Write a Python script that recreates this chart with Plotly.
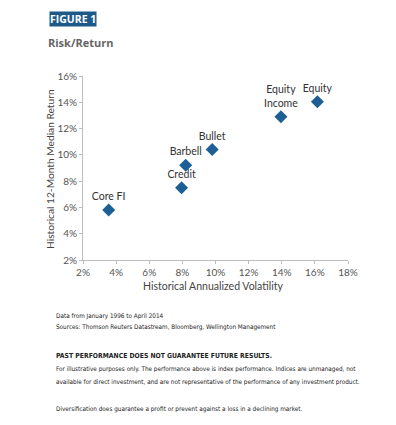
import plotly.graph_objects as go

names = ["Core FI", "Credit", "Barbell", "Bullet", "Equity<br>Income", "Equity"]
volatility = [3.55, 7.95, 8.2, 9.8, 13.95, 16.15]
returns = [5.8, 7.5, 9.2, 10.4, 12.9, 14.05]
x_ticks = [2, 4, 6, 8, 10, 12, 14, 16, 18]
y_ticks = [2, 4, 6, 8, 10, 12, 14, 16]

W, H = 396, 425
def px(x): return x / W
def py(y): return 1 - y / H

lab_font = "Lato, Open Sans, sans-serif"

fig = go.Figure()
fig.add_trace(go.Scatter(
    x=volatility, y=returns, mode="markers+text", text=names,
    textposition="top center",
    textfont=dict(family=lab_font, size=10.5, color="#333333"),
    marker=dict(symbol="diamond", size=10, color="#1d5f95"),
    cliponaxis=False, hoverinfo="skip"))

axis_common = dict(showgrid=False, zeroline=False, showline=True, linecolor="#bdbdbd",
                   linewidth=1, ticks="outside", ticklen=3, tickcolor="#bdbdbd", automargin=False,
                   tickfont=dict(family=lab_font, size=10, color="#555555"))
fig.update_layout(
    width=W, height=H, margin=dict(l=0, r=0, t=0, b=0, autoexpand=False),
    paper_bgcolor="white", plot_bgcolor="white", showlegend=False,
    xaxis=dict(range=[2, 18], tickvals=x_ticks, ticktext=[f"{v}%" for v in x_ticks],
               domain=[px(83), px(348)], **axis_common),
    yaxis=dict(range=[2, 16], tickvals=y_ticks, ticktext=[f"{v}%" for v in y_ticks],
               domain=[py(260), py(76)], **axis_common),
)

ann = []
ann.append(dict(x=px(49), y=py(19), xref="paper", yref="paper", xanchor="left", yanchor="middle",
                text="<b>FIGURE 1</b>", showarrow=False, bgcolor="#1d5a8a",
                font=dict(family="Open Sans, sans-serif", size=10.5, color="white"), borderpad=0))
ann.append(dict(x=px(46), y=py(42), xref="paper", yref="paper", xanchor="left", yanchor="middle",
                text="<b>Risk/Return</b>", showarrow=False,
                font=dict(family="Open Sans, sans-serif", size=11, color="#666666")))
ann.append(dict(x=px(213), y=py(286), xref="paper", yref="paper", xanchor="center", yanchor="middle",
                text="Historical Annualized Volatility", showarrow=False,
                font=dict(family=lab_font, size=10.5, color="#444444")))
ann.append(dict(x=px(50), y=py(169), xref="paper", yref="paper", xanchor="center", yanchor="middle",
                text="Historical 12-Month Median Return", showarrow=False, textangle=-90,
                font=dict(family=lab_font, size=10.2, color="#444444")))

foot = "Liberation Sans Narrow, DejaVu Sans Condensed, sans-serif"
lines = [
    (316, "Data from January 1996 to April 2014", False),
    (327, "Sources: Thomson Reuters Datastream, Bloomberg, Wellington Management", False),
    (356, "PAST PERFORMANCE DOES NOT GUARANTEE FUTURE RESULTS.", True),
    (369, "For illustrative purposes only. The performance above is index performance. Indices are unmanaged, not", False),
    (382, "available for direct investment, and are not representative of the performance of any investment product.", False),
    (409, "Diversification does guarantee a profit or prevent against a loss in a declining market.", False),
]
for y, t, b in lines:
    ann.append(dict(x=px(54), y=py(y), xref="paper", yref="paper", xanchor="left", yanchor="middle",
                    text=f"<b>{t}</b>" if b else t, showarrow=False,
                    font=dict(family=foot, size=6.8 if b else 6.35, color="#222222")))
fig.update_layout(annotations=ann)
fig.write_html("out.html", config={"displayModeBar": False},
               post_script="document.body.style.margin='0';document.body.style.overflow='hidden';")
